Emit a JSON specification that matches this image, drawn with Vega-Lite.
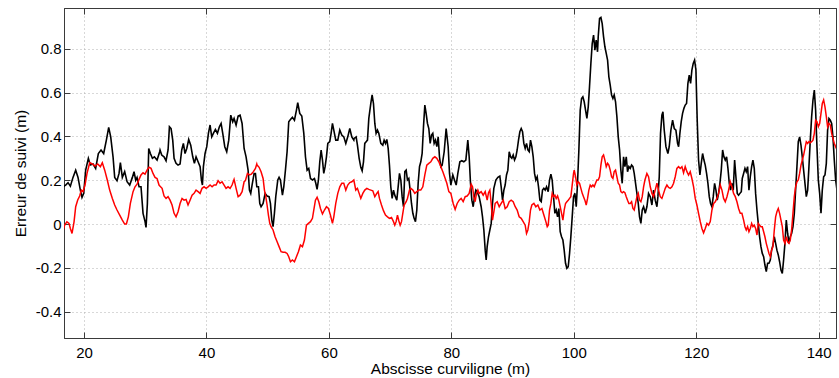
{
"$schema": "https://vega.github.io/schema/vega-lite/v6.json",
"width": 772, "height": 330,
"autosize": {"type": "none"},
"padding": {"left": 64, "top": 8, "right": 3, "bottom": 40},
"config": {
  "view": {"stroke": "#3a3a3a", "strokeWidth": 1},
  "font": "Liberation Sans",
  "axis": {"domainColor": "#3a3a3a", "tickColor": "#3a3a3a", "tickSize": -6, "labelFont": "Liberation Sans", "labelFontSize": 15, "labelColor": "#000", "titleFont": "Liberation Sans", "titleFontSize": 15.5, "titleFontWeight": "normal", "titleColor": "#000", "gridColor": "#b0b0b0", "gridDash": [1, 3], "gridWidth": 1}
},
"datasets": {
"black": [
{"x":16.57,"y":0.17},{"x":17.0,"y":0.178},{"x":17.39,"y":0.189},{"x":17.77,"y":0.173},{"x":18.2,"y":0.213},{"x":18.64,"y":0.246},{"x":19.02,"y":0.213},{"x":19.4,"y":0.155},{"x":19.67,"y":0.122},{"x":19.95,"y":0.14},{"x":20.27,"y":0.246},{"x":20.71,"y":0.3},{"x":21.03,"y":0.27},{"x":21.47,"y":0.274},{"x":21.9,"y":0.254},{"x":22.34,"y":0.322},{"x":22.78,"y":0.338},{"x":23.21,"y":0.322},{"x":23.65,"y":0.383},{"x":24.03,"y":0.441},{"x":24.36,"y":0.398},{"x":24.74,"y":0.307},{"x":25.01,"y":0.213},{"x":25.39,"y":0.198},{"x":25.72,"y":0.231},{"x":25.94,"y":0.28},{"x":26.26,"y":0.213},{"x":26.64,"y":0.239},{"x":27.03,"y":0.193},{"x":27.46,"y":0.178},{"x":27.9,"y":0.213},{"x":28.17,"y":0.239},{"x":28.44,"y":0.2},{"x":28.66,"y":0.213},{"x":28.99,"y":0.17},{"x":29.31,"y":0.17},{"x":29.64,"y":0.049},{"x":29.97,"y":0.011},{"x":30.13,"y":-0.015},{"x":30.35,"y":0.094},{"x":30.57,"y":0.345},{"x":30.84,"y":0.322},{"x":31.17,"y":0.3},{"x":31.49,"y":0.307},{"x":31.93,"y":0.292},{"x":32.36,"y":0.33},
{"x":32.42,"y":0.338},{"x":32.69,"y":0.315},{"x":33.07,"y":0.307},{"x":33.4,"y":0.289},{"x":33.73,"y":0.338},{"x":33.95,"y":0.444},{"x":34.22,"y":0.436},{"x":34.49,"y":0.383},{"x":34.71,"y":0.3},{"x":35.03,"y":0.277},{"x":35.36,"y":0.269},{"x":35.69,"y":0.274},{"x":35.96,"y":0.338},{"x":36.23,"y":0.368},{"x":36.5,"y":0.322},{"x":36.78,"y":0.345},{"x":37.1,"y":0.386},{"x":37.43,"y":0.36},{"x":37.76,"y":0.307},{"x":38.03,"y":0.277},{"x":38.3,"y":0.307},{"x":38.63,"y":0.284},{"x":38.96,"y":0.262},{"x":39.18,"y":0.2},{"x":39.34,"y":0.178},{"x":39.5,"y":0.262},{"x":39.77,"y":0.322},{"x":40.05,"y":0.353},{"x":40.32,"y":0.414},{"x":40.59,"y":0.452},{"x":40.86,"y":0.398},{"x":41.13,"y":0.414},{"x":41.46,"y":0.432},{"x":41.79,"y":0.414},{"x":42.11,"y":0.444},{"x":42.39,"y":0.459},{"x":42.66,"y":0.414},{"x":42.99,"y":0.353},{"x":43.31,"y":0.33},{"x":43.64,"y":0.383},{"x":43.97,"y":0.497},{"x":44.29,"y":0.467},{"x":44.51,"y":0.482},{"x":44.84,"y":0.452},{"x":45.17,"y":0.493},{"x":45.49,"y":0.497},{"x":45.82,"y":0.459},{"x":46.15,"y":0.345},{"x":46.47,"y":0.307},{"x":46.8,"y":0.246},{"x":47.02,"y":0.155},{"x":47.23,"y":0.14},{"x":47.45,"y":0.178},{"x":47.78,"y":0.231},{"x":48.0,"y":0.231},{"x":48.22,"y":0.17},
{"x":48.49,"y":0.17},{"x":48.71,"y":0.094},{"x":48.92,"y":0.079},{"x":49.25,"y":0.094},{"x":49.58,"y":0.14},{"x":49.9,"y":0.128},{"x":50.23,"y":0.125},{"x":50.45,"y":0.094},{"x":50.67,"y":0.018},{"x":50.88,"y":-0.012},{"x":51.1,"y":0.049},{"x":51.32,"y":0.125},{"x":51.65,"y":0.201},{"x":51.86,"y":0.213},{"x":52.08,"y":0.201},{"x":52.41,"y":0.132},{"x":52.63,"y":0.17},{"x":52.9,"y":0.246},{"x":53.17,"y":0.33},{"x":53.44,"y":0.467},{"x":53.72,"y":0.477},{"x":54.04,"y":0.487},{"x":54.37,"y":0.474},{"x":54.7,"y":0.52},{"x":54.91,"y":0.554},{"x":55.24,"y":0.505},{"x":55.57,"y":0.493},{"x":55.9,"y":0.414},{"x":56.17,"y":0.307},{"x":56.44,"y":0.246},{"x":56.71,"y":0.254},{"x":56.99,"y":0.208},{"x":57.31,"y":0.201},{"x":57.64,"y":0.208},{"x":57.86,"y":0.186},{"x":58.07,"y":0.158},{"x":58.29,"y":0.201},{"x":58.51,"y":0.284},{"x":58.73,"y":0.338},{"x":58.95,"y":0.292},{"x":59.16,"y":0.231},{"x":59.38,"y":0.262},{"x":59.6,"y":0.307},{"x":59.82,"y":0.368},{"x":60.14,"y":0.376},{"x":60.36,"y":0.414},{"x":60.58,"y":0.459},{"x":60.8,"y":0.429},{"x":61.12,"y":0.383},{"x":61.45,"y":0.383},{"x":61.78,"y":0.429},{"x":62.1,"y":0.406},{"x":62.43,"y":0.398},{"x":62.76,"y":0.368},{"x":63.08,"y":0.398},{"x":63.41,"y":0.436},{"x":63.74,"y":0.398},{"x":64.07,"y":0.383},
{"x":64.12,"y":0.391},{"x":64.45,"y":0.398},{"x":64.66,"y":0.36},{"x":64.94,"y":0.3},{"x":65.21,"y":0.259},{"x":65.43,"y":0.243},{"x":65.65,"y":0.284},{"x":65.86,"y":0.368},{"x":66.08,"y":0.376},{"x":66.3,"y":0.383},{"x":66.52,"y":0.482},{"x":66.84,"y":0.55},{"x":67.06,"y":0.589},{"x":67.28,"y":0.55},{"x":67.5,"y":0.459},{"x":67.71,"y":0.414},{"x":67.93,"y":0.429},{"x":68.15,"y":0.414},{"x":68.48,"y":0.368},{"x":68.8,"y":0.36},{"x":69.02,"y":0.383},{"x":69.24,"y":0.368},{"x":69.46,"y":0.386},{"x":69.68,"y":0.345},{"x":69.89,"y":0.269},{"x":70.11,"y":0.17},{"x":70.33,"y":0.117},{"x":70.55,"y":0.155},{"x":70.76,"y":0.132},{"x":71.09,"y":0.109},{"x":71.31,"y":0.17},{"x":71.53,"y":0.231},{"x":71.75,"y":0.201},{"x":71.96,"y":0.125},{"x":72.18,"y":0.079},{"x":72.4,"y":0.239},{"x":72.62,"y":0.246},{"x":72.83,"y":0.201},{"x":73.05,"y":0.208},{"x":73.27,"y":0.155},{"x":73.49,"y":0.094},{"x":73.71,"y":0.049},{"x":73.92,"y":0.026},{"x":74.14,"y":0.011},{"x":74.36,"y":0.064},{"x":74.58,"y":0.186},{"x":74.8,"y":0.262},{"x":75.01,"y":0.284},{"x":75.23,"y":0.322},{"x":75.45,"y":0.444},{"x":75.67,"y":0.543},{"x":75.88,"y":0.505},{"x":76.1,"y":0.459},{"x":76.32,"y":0.436},{"x":76.54,"y":0.368},{"x":76.76,"y":0.406},{"x":76.97,"y":0.414},{"x":77.19,"y":0.368},{"x":77.41,"y":0.383},{"x":77.63,"y":0.353},{"x":77.85,"y":0.398},{"x":78.06,"y":0.307},{"x":78.28,"y":0.262},{"x":78.5,"y":0.269},{"x":78.83,"y":0.33},{"x":79.15,"y":0.436},{"x":79.48,"y":0.353},{"x":79.7,"y":0.231},{"x":79.92,"y":0.178},
{"x":80.24,"y":0.224},{"x":80.51,"y":0.201},{"x":80.79,"y":0.178},{"x":81.06,"y":0.231},{"x":81.39,"y":0.284},{"x":81.71,"y":0.289},{"x":82.04,"y":0.284},{"x":82.37,"y":0.292},{"x":82.69,"y":0.383},{"x":82.91,"y":0.307},{"x":83.13,"y":0.186},{"x":83.35,"y":0.109},{"x":83.57,"y":0.079},{"x":83.78,"y":0.125},{"x":84.0,"y":0.155},{"x":84.22,"y":0.148},{"x":84.54,"y":0.125},{"x":84.87,"y":0.079},{"x":85.09,"y":0.033},{"x":85.31,"y":-0.027},{"x":85.53,"y":-0.119},{"x":85.69,"y":-0.164},{"x":85.85,"y":-0.103},{"x":86.07,"y":-0.058},{"x":86.29,"y":-0.027},{"x":86.51,"y":0.003},{"x":86.72,"y":0.094},{"x":86.94,"y":0.163},{"x":87.27,"y":0.201},{"x":87.6,"y":0.213},{"x":87.92,"y":0.219},{"x":88.14,"y":0.17},{"x":88.36,"y":0.109},{"x":88.58,"y":0.155},{"x":88.79,"y":0.178},{"x":89.01,"y":0.224},{"x":89.23,"y":0.246},{"x":89.45,"y":0.33},{"x":89.67,"y":0.307},{"x":89.88,"y":0.3},{"x":90.1,"y":0.315},{"x":90.32,"y":0.292},{"x":90.54,"y":0.307},{"x":90.75,"y":0.338},{"x":90.97,"y":0.383},{"x":91.19,"y":0.421},{"x":91.41,"y":0.436},{"x":91.63,"y":0.421},{"x":91.84,"y":0.368},{"x":92.06,"y":0.345},{"x":92.28,"y":0.368},{"x":92.5,"y":0.338},{"x":92.72,"y":0.33},{"x":92.93,"y":0.383},{"x":93.15,"y":0.353},{"x":93.37,"y":0.307},{"x":93.59,"y":0.231},{"x":93.8,"y":0.201},{"x":94.02,"y":0.216},{"x":94.24,"y":0.17},{"x":94.46,"y":0.109},{"x":94.68,"y":0.102},{"x":94.89,"y":0.155},{"x":95.11,"y":0.163},{"x":95.33,"y":0.155},{"x":95.55,"y":0.17},
{"x":95.82,"y":0.148},{"x":96.04,"y":0.201},{"x":96.26,"y":0.228},{"x":96.47,"y":0.201},{"x":96.69,"y":0.125},{"x":96.91,"y":0.049},{"x":97.13,"y":0.064},{"x":97.35,"y":0.033},{"x":97.56,"y":0.071},{"x":97.78,"y":-0.035},{"x":98.0,"y":-0.058},{"x":98.22,"y":-0.073},{"x":98.43,"y":-0.119},{"x":98.65,"y":-0.179},{"x":98.87,"y":-0.202},{"x":99.09,"y":-0.195},{"x":99.31,"y":-0.134},{"x":99.52,"y":-0.058},{"x":99.74,"y":0.033},{"x":99.96,"y":0.125},{"x":100.18,"y":0.14},{"x":100.4,"y":0.079},{"x":100.61,"y":0.186},{"x":100.83,"y":0.338},{"x":101.05,"y":0.52},{"x":101.27,"y":0.573},{"x":101.48,"y":0.581},{"x":101.7,"y":0.558},{"x":101.92,"y":0.52},{"x":102.14,"y":0.482},{"x":102.36,"y":0.535},{"x":102.57,"y":0.627},{"x":102.79,"y":0.733},{"x":103.01,"y":0.824},{"x":103.23,"y":0.862},{"x":103.45,"y":0.794},{"x":103.66,"y":0.84},{"x":103.88,"y":0.786},{"x":103.99,"y":0.855},{"x":104.21,"y":0.938},{"x":104.43,"y":0.943},{"x":104.64,"y":0.915},{"x":104.86,"y":0.855},{"x":105.08,"y":0.809},{"x":105.3,"y":0.779},{"x":105.52,"y":0.748},{"x":105.73,"y":0.672},{"x":105.95,"y":0.634},{"x":106.17,"y":0.589},{"x":106.39,"y":0.573},{"x":106.6,"y":0.589},{"x":106.82,"y":0.558},{"x":107.04,"y":0.49},{"x":107.26,"y":0.398},{"x":107.48,"y":0.338},{"x":107.69,"y":0.246},{"x":107.91,"y":0.186},{"x":108.13,"y":0.307},{"x":108.35,"y":0.262},{"x":108.57,"y":0.307},{"x":108.78,"y":0.239},{"x":109.0,"y":0.262},{"x":109.22,"y":0.254},{"x":109.44,"y":0.269},{"x":109.66,"y":0.262},{"x":109.87,"y":0.231},{"x":110.09,"y":0.186},{"x":110.31,"y":0.14},{"x":110.53,"y":0.094},{"x":110.74,"y":0.033},{"x":110.96,"y":0.003},{"x":111.18,"y":0.064},{"x":111.4,"y":0.079},{"x":111.62,"y":0.056},
{"x":111.67,"y":0.049},{"x":111.94,"y":0.079},{"x":112.21,"y":0.14},{"x":112.49,"y":0.125},{"x":112.76,"y":0.087},{"x":113.03,"y":0.155},{"x":113.3,"y":0.109},{"x":113.58,"y":0.079},{"x":113.74,"y":0.125},{"x":113.96,"y":0.216},{"x":114.17,"y":0.414},{"x":114.39,"y":0.497},{"x":114.56,"y":0.512},{"x":114.77,"y":0.429},{"x":115.05,"y":0.353},{"x":115.37,"y":0.322},{"x":115.59,"y":0.353},{"x":115.86,"y":0.429},{"x":116.14,"y":0.474},{"x":116.41,"y":0.436},{"x":116.68,"y":0.429},{"x":116.95,"y":0.368},{"x":117.12,"y":0.353},{"x":117.33,"y":0.414},{"x":117.55,"y":0.467},{"x":117.77,"y":0.505},{"x":117.99,"y":0.528},{"x":118.2,"y":0.543},{"x":118.42,"y":0.55},{"x":118.64,"y":0.642},{"x":118.86,"y":0.68},{"x":119.08,"y":0.642},{"x":119.29,"y":0.703},{"x":119.51,"y":0.733},{"x":119.73,"y":0.748},{"x":119.95,"y":0.703},{"x":120.16,"y":0.474},{"x":120.38,"y":0.292},{"x":120.6,"y":0.224},{"x":120.82,"y":0.277},{"x":121.04,"y":0.322},{"x":121.26,"y":0.292},{"x":121.47,"y":0.269},{"x":121.69,"y":0.231},{"x":121.91,"y":0.186},{"x":122.13,"y":0.125},{"x":122.34,"y":0.094},{"x":122.56,"y":0.079},{"x":122.78,"y":0.125},{"x":123.0,"y":0.186},{"x":123.22,"y":0.155},{"x":123.43,"y":0.109},{"x":123.65,"y":0.14},{"x":123.87,"y":0.186},{"x":124.09,"y":0.246},{"x":124.31,"y":0.338},{"x":124.52,"y":0.307},{"x":124.74,"y":0.292},{"x":124.96,"y":0.307},{"x":125.18,"y":0.254},{"x":125.4,"y":0.186},{"x":125.61,"y":0.155},{"x":125.83,"y":0.186},{"x":126.05,"y":0.155},{"x":126.27,"y":0.292},{"x":126.48,"y":0.216},{"x":126.7,"y":0.14},{"x":126.92,"y":0.132},{"x":127.14,"y":0.14},{"x":127.36,"y":0.148},
{"x":127.52,"y":0.208},{"x":127.74,"y":0.231},{"x":127.96,"y":0.254},{"x":128.17,"y":0.239},{"x":128.39,"y":0.262},{"x":128.61,"y":0.155},{"x":128.83,"y":0.216},{"x":129.05,"y":0.262},{"x":129.26,"y":0.292},{"x":129.48,"y":0.254},{"x":129.7,"y":0.14},{"x":129.92,"y":0.064},{"x":130.13,"y":0.003},{"x":130.35,"y":-0.058},{"x":130.57,"y":-0.103},{"x":130.79,"y":-0.134},{"x":131.01,"y":-0.149},{"x":131.22,"y":-0.187},{"x":131.44,"y":-0.217},{"x":131.66,"y":-0.179},{"x":131.88,"y":-0.179},{"x":132.1,"y":-0.164},{"x":132.31,"y":-0.119},{"x":132.53,"y":-0.096},{"x":132.75,"y":-0.058},{"x":132.97,"y":-0.088},{"x":133.18,"y":-0.119},{"x":133.4,"y":-0.141},{"x":133.62,"y":-0.172},{"x":133.84,"y":-0.21},{"x":134.06,"y":-0.225},{"x":134.27,"y":-0.164},{"x":134.49,"y":-0.088},{"x":134.71,"y":0.018},{"x":134.93,"y":-0.043},{"x":135.15,"y":-0.088},{"x":135.36,"y":-0.058},{"x":135.58,"y":-0.043},{"x":135.8,"y":-0.012},{"x":136.02,"y":0.049},{"x":136.23,"y":0.155},{"x":136.45,"y":0.262},{"x":136.67,"y":0.376},{"x":136.89,"y":0.398},{"x":137.11,"y":0.36},{"x":137.32,"y":0.307},{"x":137.54,"y":0.246},{"x":137.76,"y":0.186},{"x":137.98,"y":0.125},{"x":138.2,"y":0.155},{"x":138.41,"y":0.262},{"x":138.63,"y":0.383},{"x":138.85,"y":0.49},{"x":139.07,"y":0.566},{"x":139.29,"y":0.611},{"x":139.5,"y":0.52},{"x":139.72,"y":0.353},{"x":139.94,"y":0.201},{"x":140.16,"y":0.14},{"x":140.38,"y":0.049},{"x":140.59,"y":0.155},{"x":140.81,"y":0.216},{"x":141.03,"y":0.224},{"x":141.25,"y":0.277},{"x":141.46,"y":0.429},{"x":141.68,"y":0.482},{"x":141.9,"y":0.474},{"x":142.12,"y":0.459},{"x":142.33,"y":0.398},{"x":142.55,"y":0.292},{"x":142.77,"y":0.201},{"x":142.99,"y":0.155}
],
"red": [
{"x":16.57,"y":-0.03},{"x":16.84,"y":-0.005},{"x":17.2,"y":0.01},{"x":17.55,"y":0.003},{"x":17.77,"y":-0.02},{"x":18.04,"y":-0.043},{"x":18.37,"y":0.01},{"x":18.64,"y":0.079},{"x":18.97,"y":0.11},{"x":19.29,"y":0.128},{"x":19.56,"y":0.155},{"x":19.84,"y":0.148},{"x":20.16,"y":0.178},{"x":20.49,"y":0.231},{"x":20.93,"y":0.28},{"x":21.36,"y":0.274},{"x":21.8,"y":0.265},{"x":22.23,"y":0.274},{"x":22.67,"y":0.262},{"x":22.99,"y":0.28},{"x":23.38,"y":0.246},{"x":23.81,"y":0.2},{"x":24.19,"y":0.155},{"x":24.63,"y":0.117},{"x":25.01,"y":0.087},{"x":25.39,"y":0.064},{"x":25.83,"y":0.041},{"x":26.26,"y":0.018},{"x":26.64,"y":0.0},{"x":26.92,"y":0.0},{"x":27.24,"y":0.033},{"x":27.57,"y":0.094},{"x":28.01,"y":0.148},{"x":28.33,"y":0.17},{"x":28.66,"y":0.182},{"x":28.99,"y":0.204},{"x":29.31,"y":0.224},{"x":29.64,"y":0.234},{"x":29.97,"y":0.228},{"x":30.29,"y":0.246},{"x":30.62,"y":0.259},{"x":30.95,"y":0.254},{"x":31.27,"y":0.231},{"x":31.6,"y":0.213},{"x":31.93,"y":0.208},{"x":32.25,"y":0.178},
{"x":32.42,"y":0.173},{"x":32.75,"y":0.163},{"x":33.07,"y":0.128},{"x":33.4,"y":0.117},{"x":33.73,"y":0.125},{"x":34.05,"y":0.109},{"x":34.38,"y":0.087},{"x":34.71,"y":0.049},{"x":35.03,"y":0.033},{"x":35.36,"y":0.056},{"x":35.69,"y":0.094},{"x":36.01,"y":0.117},{"x":36.34,"y":0.109},{"x":36.67,"y":0.112},{"x":36.99,"y":0.087},{"x":37.32,"y":0.109},{"x":37.65,"y":0.132},{"x":37.98,"y":0.14},{"x":38.3,"y":0.155},{"x":38.63,"y":0.148},{"x":38.96,"y":0.14},{"x":39.28,"y":0.163},{"x":39.61,"y":0.17},{"x":39.94,"y":0.163},{"x":40.26,"y":0.17},{"x":40.59,"y":0.178},{"x":40.92,"y":0.17},{"x":41.24,"y":0.178},{"x":41.57,"y":0.178},{"x":41.9,"y":0.198},{"x":42.22,"y":0.186},{"x":42.55,"y":0.193},{"x":42.88,"y":0.178},{"x":43.2,"y":0.163},{"x":43.53,"y":0.17},{"x":43.86,"y":0.163},{"x":44.18,"y":0.178},{"x":44.51,"y":0.204},{"x":44.84,"y":0.163},{"x":45.17,"y":0.125},{"x":45.49,"y":0.132},{"x":45.82,"y":0.148},{"x":46.15,"y":0.193},{"x":46.36,"y":0.198},{"x":46.69,"y":0.231},{"x":47.02,"y":0.224},{"x":47.34,"y":0.228},{"x":47.67,"y":0.239},{"x":48.0,"y":0.254},{"x":48.22,"y":0.274},
{"x":48.27,"y":0.269},{"x":48.6,"y":0.259},{"x":48.92,"y":0.239},{"x":49.25,"y":0.208},{"x":49.47,"y":0.155},{"x":49.69,"y":0.125},{"x":49.9,"y":0.087},{"x":50.12,"y":0.041},{"x":50.34,"y":0.003},{"x":50.56,"y":-0.012},{"x":50.88,"y":-0.027},{"x":51.21,"y":-0.058},{"x":51.54,"y":-0.081},{"x":51.86,"y":-0.103},{"x":52.19,"y":-0.126},{"x":52.52,"y":-0.129},{"x":52.85,"y":-0.129},{"x":53.17,"y":-0.134},{"x":53.44,"y":-0.149},{"x":53.72,"y":-0.172},{"x":54.04,"y":-0.164},{"x":54.37,"y":-0.172},{"x":54.7,"y":-0.149},{"x":55.02,"y":-0.126},{"x":55.35,"y":-0.096},{"x":55.68,"y":-0.103},{"x":56.0,"y":-0.073},{"x":56.33,"y":-0.005},{"x":56.66,"y":0.003},{"x":56.99,"y":0.011},{"x":57.31,"y":0.026},{"x":57.53,"y":0.064},{"x":57.8,"y":0.109},{"x":58.07,"y":0.122},{"x":58.35,"y":0.102},{"x":58.62,"y":0.071},{"x":58.95,"y":0.046},{"x":59.27,"y":0.064},{"x":59.6,"y":0.079},{"x":59.93,"y":0.071},{"x":60.25,"y":0.041},{"x":60.58,"y":0.003},{"x":60.8,"y":0.033},{"x":61.12,"y":0.094},{"x":61.45,"y":0.14},{"x":61.78,"y":0.17},{"x":62.1,"y":0.186},{"x":62.43,"y":0.186},{"x":62.76,"y":0.155},{"x":63.08,"y":0.178},{"x":63.41,"y":0.189},{"x":63.74,"y":0.193},{"x":64.07,"y":0.201},
{"x":64.39,"y":0.155},{"x":64.66,"y":0.163},{"x":64.94,"y":0.14},{"x":65.21,"y":0.117},{"x":65.54,"y":0.14},{"x":65.86,"y":0.155},{"x":66.19,"y":0.163},{"x":66.52,"y":0.158},{"x":66.84,"y":0.155},{"x":67.17,"y":0.152},{"x":67.5,"y":0.125},{"x":67.82,"y":0.14},{"x":68.04,"y":0.148},{"x":68.26,"y":0.117},{"x":68.59,"y":0.087},{"x":68.91,"y":0.061},{"x":69.24,"y":0.041},{"x":69.57,"y":0.033},{"x":69.89,"y":0.026},{"x":70.22,"y":0.03},{"x":70.55,"y":0.011},{"x":70.76,"y":-0.005},{"x":70.98,"y":0.011},{"x":71.2,"y":0.041},{"x":71.42,"y":0.015},{"x":71.64,"y":-0.005},{"x":71.86,"y":0.011},{"x":72.07,"y":0.049},{"x":72.29,"y":0.087},{"x":72.62,"y":0.102},{"x":72.83,"y":0.117},{"x":73.16,"y":0.155},{"x":73.38,"y":0.163},{"x":73.71,"y":0.155},{"x":74.03,"y":0.14},{"x":74.36,"y":0.148},{"x":74.69,"y":0.155},{"x":75.01,"y":0.155},{"x":75.34,"y":0.17},{"x":75.67,"y":0.224},{"x":75.99,"y":0.269},{"x":76.32,"y":0.277},{"x":76.65,"y":0.284},{"x":76.97,"y":0.3},{"x":77.3,"y":0.307},{"x":77.63,"y":0.3},{"x":77.96,"y":0.284},{"x":78.28,"y":0.262},{"x":78.61,"y":0.239},{"x":78.94,"y":0.213},{"x":79.26,"y":0.186},{"x":79.59,"y":0.148},{"x":79.92,"y":0.14},
{"x":80.3,"y":0.094},{"x":80.62,"y":0.067},{"x":80.95,"y":0.094},{"x":81.28,"y":0.109},{"x":81.6,"y":0.117},{"x":81.93,"y":0.102},{"x":82.26,"y":0.125},{"x":82.58,"y":0.128},{"x":82.91,"y":0.14},{"x":83.24,"y":0.182},{"x":83.46,"y":0.17},{"x":83.67,"y":0.125},{"x":83.89,"y":0.102},{"x":84.11,"y":0.14},{"x":84.33,"y":0.155},{"x":84.54,"y":0.14},{"x":84.87,"y":0.148},{"x":85.2,"y":0.132},{"x":85.53,"y":0.148},{"x":85.85,"y":0.109},{"x":86.07,"y":0.143},{"x":86.29,"y":0.155},{"x":86.51,"y":0.094},{"x":86.72,"y":0.018},{"x":86.94,"y":0.056},{"x":87.16,"y":0.094},{"x":87.49,"y":0.102},{"x":87.82,"y":0.079},{"x":88.14,"y":0.094},{"x":88.47,"y":0.109},{"x":88.79,"y":0.071},{"x":89.12,"y":0.079},{"x":89.45,"y":0.102},{"x":89.77,"y":0.109},{"x":90.1,"y":0.102},{"x":90.43,"y":0.079},{"x":90.75,"y":0.064},{"x":91.08,"y":0.033},{"x":91.41,"y":0.026},{"x":91.73,"y":0.011},{"x":92.06,"y":-0.005},{"x":92.28,"y":-0.043},{"x":92.5,"y":-0.027},{"x":92.72,"y":0.011},{"x":92.93,"y":0.064},{"x":93.15,"y":0.087},{"x":93.48,"y":0.094},{"x":93.8,"y":0.079},{"x":94.13,"y":0.087},{"x":94.46,"y":0.064},{"x":94.79,"y":0.071},{"x":95.11,"y":0.041},{"x":95.44,"y":0.011},{"x":95.66,"y":-0.012},
{"x":95.82,"y":-0.005},{"x":96.04,"y":0.064},{"x":96.26,"y":0.094},{"x":96.47,"y":0.14},{"x":96.69,"y":0.125},{"x":96.91,"y":0.132},{"x":97.13,"y":0.117},{"x":97.35,"y":0.128},{"x":97.56,"y":0.109},{"x":97.78,"y":0.079},{"x":98.0,"y":0.049},{"x":98.22,"y":0.018},{"x":98.43,"y":0.064},{"x":98.65,"y":0.094},{"x":98.87,"y":0.102},{"x":99.09,"y":0.109},{"x":99.31,"y":0.117},{"x":99.52,"y":0.125},{"x":99.74,"y":0.178},{"x":99.96,"y":0.231},{"x":100.07,"y":0.246},{"x":100.29,"y":0.216},{"x":100.5,"y":0.178},{"x":100.72,"y":0.193},{"x":100.94,"y":0.186},{"x":101.16,"y":0.163},{"x":101.38,"y":0.14},{"x":101.59,"y":0.125},{"x":101.81,"y":0.109},{"x":102.03,"y":0.087},{"x":102.25,"y":0.117},{"x":102.46,"y":0.155},{"x":102.68,"y":0.178},{"x":102.9,"y":0.17},{"x":103.12,"y":0.178},{"x":103.34,"y":0.17},{"x":103.55,"y":0.186},{"x":103.77,"y":0.201},{"x":103.99,"y":0.201},{"x":104.21,"y":0.216},{"x":104.43,"y":0.269},{"x":104.64,"y":0.307},{"x":104.86,"y":0.315},{"x":105.08,"y":0.292},{"x":105.3,"y":0.262},{"x":105.52,"y":0.277},{"x":105.73,"y":0.269},{"x":105.95,"y":0.246},{"x":106.17,"y":0.216},{"x":106.39,"y":0.208},{"x":106.6,"y":0.239},{"x":106.82,"y":0.246},{"x":107.04,"y":0.216},{"x":107.26,"y":0.186},{"x":107.48,"y":0.178},{"x":107.69,"y":0.148},{"x":107.91,"y":0.143},{"x":108.13,"y":0.148},{"x":108.35,"y":0.143},{"x":108.57,"y":0.125},{"x":108.78,"y":0.109},{"x":109.0,"y":0.094},{"x":109.22,"y":0.094},{"x":109.44,"y":0.102},{"x":109.66,"y":0.071},{"x":109.87,"y":0.064},{"x":110.09,"y":0.094},{"x":110.31,"y":0.125},{"x":110.53,"y":0.14},{"x":110.74,"y":0.109},{"x":110.96,"y":0.102},{"x":111.18,"y":0.125},{"x":111.4,"y":0.17},{"x":111.62,"y":0.201},
{"x":111.94,"y":0.231},{"x":112.21,"y":0.216},{"x":112.49,"y":0.17},{"x":112.76,"y":0.14},{"x":113.03,"y":0.125},{"x":113.3,"y":0.155},{"x":113.58,"y":0.186},{"x":113.85,"y":0.155},{"x":114.12,"y":0.125},{"x":114.39,"y":0.117},{"x":114.67,"y":0.14},{"x":114.94,"y":0.163},{"x":115.21,"y":0.178},{"x":115.48,"y":0.167},{"x":115.76,"y":0.163},{"x":116.03,"y":0.17},{"x":116.3,"y":0.186},{"x":116.57,"y":0.216},{"x":116.84,"y":0.254},{"x":117.12,"y":0.262},{"x":117.39,"y":0.254},{"x":117.66,"y":0.262},{"x":117.93,"y":0.234},{"x":118.2,"y":0.262},{"x":118.48,"y":0.239},{"x":118.75,"y":0.224},{"x":119.02,"y":0.239},{"x":119.29,"y":0.208},{"x":119.57,"y":0.17},{"x":119.84,"y":0.117},{"x":120.11,"y":0.087},{"x":120.38,"y":0.049},{"x":120.66,"y":0.011},{"x":120.93,"y":-0.02},{"x":121.2,"y":-0.04},{"x":121.47,"y":-0.02},{"x":121.75,"y":0.003},{"x":122.02,"y":-0.005},{"x":122.29,"y":0.011},{"x":122.56,"y":0.064},{"x":122.84,"y":0.094},{"x":123.11,"y":0.102},{"x":123.38,"y":0.117},{"x":123.65,"y":0.14},{"x":123.93,"y":0.178},{"x":124.2,"y":0.155},{"x":124.47,"y":0.117},{"x":124.74,"y":0.102},{"x":125.02,"y":0.125},{"x":125.29,"y":0.155},{"x":125.56,"y":0.193},{"x":125.83,"y":0.17},{"x":126.1,"y":0.14},{"x":126.38,"y":0.125},{"x":126.65,"y":0.102},{"x":126.92,"y":0.071},{"x":127.19,"y":0.049},{"x":127.46,"y":0.049},
{"x":127.74,"y":0.018},{"x":127.96,"y":-0.012},{"x":128.17,"y":-0.027},{"x":128.39,"y":-0.012},{"x":128.61,"y":-0.035},{"x":128.83,"y":-0.02},{"x":129.05,"y":0.003},{"x":129.26,"y":-0.012},{"x":129.48,"y":-0.005},{"x":129.7,"y":-0.02},{"x":129.92,"y":-0.05},{"x":130.13,"y":0.003},{"x":130.35,"y":-0.005},{"x":130.57,"y":-0.012},{"x":130.79,"y":-0.012},{"x":131.01,"y":-0.035},{"x":131.22,"y":-0.058},{"x":131.44,"y":-0.088},{"x":131.66,"y":-0.111},{"x":131.88,"y":-0.134},{"x":132.1,"y":-0.149},{"x":132.31,"y":-0.119},{"x":132.53,"y":-0.103},{"x":132.75,"y":-0.027},{"x":132.97,"y":0.033},{"x":133.18,"y":0.056},{"x":133.4,"y":0.071},{"x":133.62,"y":0.049},{"x":133.84,"y":0.018},{"x":134.06,"y":-0.012},{"x":134.27,"y":-0.073},{"x":134.49,"y":-0.088},{"x":134.71,"y":-0.058},{"x":134.93,"y":-0.081},{"x":135.15,"y":-0.088},{"x":135.36,"y":-0.073},{"x":135.58,"y":-0.027},{"x":135.8,"y":0.049},{"x":136.02,"y":0.125},{"x":136.23,"y":0.17},{"x":136.45,"y":0.193},{"x":136.67,"y":0.201},{"x":136.89,"y":0.231},{"x":137.11,"y":0.269},{"x":137.32,"y":0.292},{"x":137.54,"y":0.315},{"x":137.76,"y":0.345},{"x":137.98,"y":0.376},{"x":138.2,"y":0.368},{"x":138.41,"y":0.376},{"x":138.63,"y":0.371},{"x":138.85,"y":0.376},{"x":139.07,"y":0.383},{"x":139.29,"y":0.414},{"x":139.5,"y":0.474},{"x":139.72,"y":0.467},{"x":139.94,"y":0.444},{"x":140.16,"y":0.459},{"x":140.38,"y":0.505},{"x":140.59,"y":0.55},{"x":140.81,"y":0.566},{"x":141.03,"y":0.535},{"x":141.25,"y":0.49},{"x":141.46,"y":0.444},{"x":141.68,"y":0.459},{"x":141.9,"y":0.452},{"x":142.12,"y":0.414},{"x":142.33,"y":0.391},{"x":142.55,"y":0.368},{"x":142.77,"y":0.353},{"x":142.99,"y":0.338}
]
},
"layer": [
 {
  "data": {"name": "black"},
  "mark": {"type": "line", "color": "#000000", "strokeWidth": 1.6, "clip": true},
  "encoding": {
   "x": {"field": "x", "type": "quantitative", "scale": {"domain": [16.73, 142.83], "nice": false, "zero": false},
     "axis": {"orient": "bottom", "values": [20, 40, 60, 80, 100, 120, 140], "format": "d", "grid": true, "labelPadding": 13, "title": "Abscisse curviligne (m)", "titlePadding": 1}},
   "y": {"field": "y", "type": "quantitative", "scale": {"domain": [-0.52, 0.986], "nice": false, "zero": false},
     "axis": {"orient": "left", "values": [-0.4, -0.2, 0, 0.2, 0.4, 0.6, 0.8], "labelExpr": "datum.value == 0 ? '0' : (datum.value < 0 ? '-' : '') + format(abs(datum.value), '.1f')", "grid": true, "labelPadding": 9, "title": "Erreur de suivi (m)", "titlePadding": 7}}
  }
 },
 {
  "data": {"name": "red"},
  "mark": {"type": "line", "color": "#ff0000", "strokeWidth": 1.5, "clip": true},
  "encoding": {
   "x": {"field": "x", "type": "quantitative", "scale": {"domain": [16.73, 142.83], "nice": false, "zero": false},
     "axis": {"orient": "top", "values": [20, 40, 60, 80, 100, 120, 140], "labels": false, "grid": false, "title": null}},
   "y": {"field": "y", "type": "quantitative", "scale": {"domain": [-0.52, 0.986], "nice": false, "zero": false},
     "axis": {"orient": "right", "values": [-0.4, -0.2, 0, 0.2, 0.4, 0.6, 0.8], "labels": false, "grid": false, "title": null}}
  }
 }
],
"resolve": {"axis": {"x": "independent", "y": "independent"}}
}
